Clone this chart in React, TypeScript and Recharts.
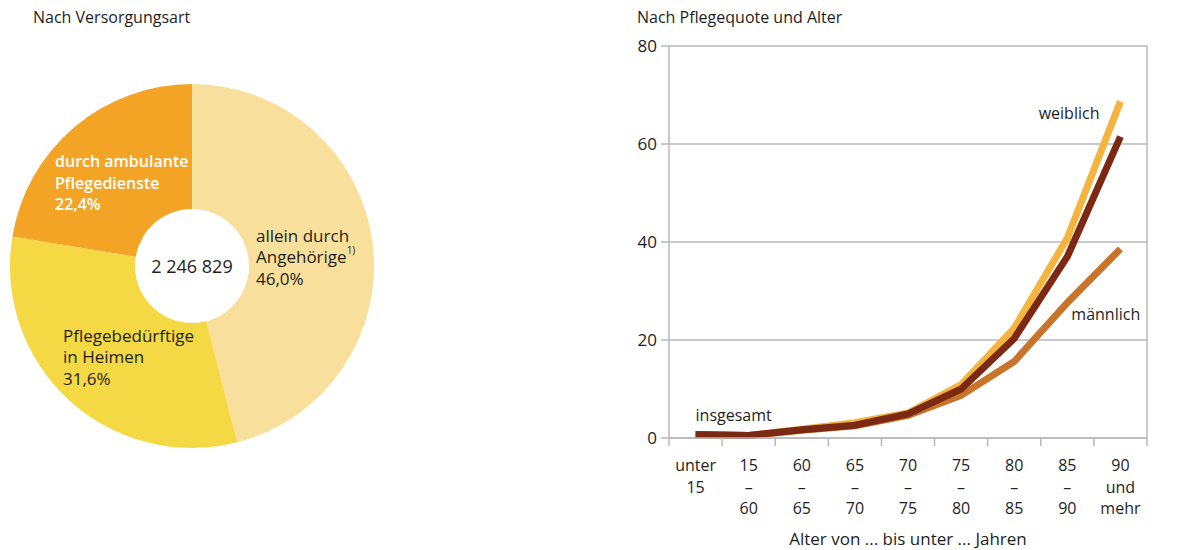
import React from 'react';
import { PieChart, Pie, Cell, LineChart, Line, XAxis, YAxis, CartesianGrid, Label } from 'recharts';

// Versorgungsart (Anteile in %)
const careTypes = ['allein durch|Angehörige|46,0%', 'Pflegebedürftige|in Heimen|31,6%', 'durch ambulante|Pflegedienste|22,4%'];
const careShares = [46.0, 31.6, 22.4];
const careColors = ['#f8e09c', '#f5d944', '#f4a424'];
const totalCount = '2 246 829';

// Pflegequote nach Alter
const ageGroups = ['unter|15', '15|–|60', '60|–|65', '65|–|70', '70|–|75', '75|–|80', '80|–|85', '85|–|90', '90|und|mehr'];
const insgesamt = [0.7, 0.5, 1.7, 2.6, 4.9, 10.0, 20.3, 37.0, 61.5];
const weiblich = [0.7, 0.5, 1.8, 3.1, 5.1, 10.9, 22.4, 40.8, 68.7];
const maennlich = [0.7, 0.5, 1.6, 2.5, 4.6, 8.7, 15.6, 27.6, 38.6];
const yTicks = [0, 20, 40, 60, 80];

const FONT = '"Open Sans", sans-serif';
const TEXT = '#1e1e1e';
const GRID = '#b8b8b8';
const BAND = 478 / 9;

const pieData = careTypes.map((name, i) => ({ name, value: careShares[i] }));
const lineData = ageGroups.map((age, i) => ({
  age,
  insgesamt: insgesamt[i],
  weiblich: weiblich[i],
  maennlich: maennlich[i],
}));

// offsets of the slice texts from the donut centre
const labelOffsets = [
  { dx: 64, dy: -31 },
  { dx: -129, dy: 69 },
  { dx: -137, dy: -105 },
];

const SliceLabel = (props: any) => {
  const { cx, cy, index } = props;
  const off = labelOffsets[index];
  const lines = careTypes[index].split('|');
  const white = index === 2;
  return (
    <g>
      {lines.map((ln, k) => (
        <text
          key={k}
          x={cx + off.dx}
          y={cy + off.dy + k * 21.5}
          dominantBaseline="central"
          textAnchor="start"
          fontFamily={FONT}
          fontSize={white ? 16 : 17}
          fontWeight={white ? 600 : 400}
          fill={white ? '#ffffff' : TEXT}
        >
          {ln}
          {index === 0 && k === 1 ? (
            <tspan fontSize={10} dy={-7}>1)</tspan>
          ) : null}
        </text>
      ))}
    </g>
  );
};

const AgeTick = (props: any) => {
  const { x, y, payload, index } = props;
  const lines = String(payload.value).split('|');
  return (
    <g>
      <line x1={x - BAND / 2} x2={x - BAND / 2} y1={y} y2={y + 8} stroke={GRID} strokeWidth={1.5} />
      {index === ageGroups.length - 1 && (
        <line x1={x + BAND / 2} x2={x + BAND / 2} y1={y} y2={y + 8} stroke={GRID} strokeWidth={1.5} />
      )}
      {lines.map((ln, k) => (
        <text key={k} x={x} y={y + 27 + k * 21.5} textAnchor="middle" dominantBaseline="central" fontFamily={FONT} fontSize={16} fill={TEXT}>
          {ln}
        </text>
      ))}
    </g>
  );
};

const seriesLabel = (key: string, idx: number, dx: number, dy: number, text: string, anchor: string) => (p: any) => {
  if (p.index !== idx) return null;
  return (
    <text key={key} x={p.x + dx} y={p.y + dy} textAnchor={anchor} dominantBaseline="central" fontFamily={FONT} fontSize={16} fill={TEXT}>
      {text}
    </text>
  );
};

export default function App() {
  return (
    <div style={{ position: 'absolute', left: 0, top: 0, width: 1189, height: 550, background: '#fff', fontFamily: FONT }}>
      <div style={{ position: 'absolute', left: 33, top: 6, fontSize: 16, color: TEXT }}>Nach Versorgungsart</div>
      <div style={{ position: 'absolute', left: 637, top: 6, fontSize: 16, color: TEXT }}>Nach Pflegequote und Alter</div>

      <div style={{ position: 'absolute', left: 0, top: 0 }}>
        <PieChart width={400} height={550} margin={{ top: 0, right: 0, bottom: 0, left: 0 }}>
          <Pie
            data={pieData}
            dataKey="value"
            cx={192}
            cy={266}
            innerRadius={57}
            outerRadius={182}
            startAngle={90}
            endAngle={-270}
            stroke="none"
            isAnimationActive={false}
            labelLine={false}
            label={SliceLabel}
          >
            {pieData.map((d, i) => (
              <Cell key={d.name} fill={careColors[i]} />
            ))}
          </Pie>
          <text x={192} y={266} textAnchor="middle" dominantBaseline="central" fontFamily={FONT} fontSize={18} fill={TEXT}>
            {totalCount}
          </text>
        </PieChart>
      </div>

      <div style={{ position: 'absolute', left: 600, top: 0 }}>
        <LineChart width={589} height={550} data={lineData} margin={{ top: 46, right: 2, bottom: 0, left: 29 }}>
          <CartesianGrid vertical={false} stroke={GRID} strokeWidth={1.5} yAxisId="left" />
          <XAxis
            dataKey="age"
            interval={0}
            height={112}
            padding={{ left: BAND / 2, right: BAND / 2 }}
            tickSize={0}
            tickMargin={0}
            tickLine={false}
            axisLine={{ stroke: GRID, strokeWidth: 1.5 }}
            tick={<AgeTick />}
          >
            <Label value="Alter von ... bis unter ... Jahren" position="insideBottom" offset={5} fontFamily={FONT} fontSize={17} fill={TEXT} />
          </XAxis>
          <YAxis
            yAxisId="left"
            width={40}
            domain={[0, 80]}
            ticks={yTicks}
            tickSize={8}
            tickMargin={4}
            axisLine={{ stroke: GRID, strokeWidth: 1.5 }}
            tickLine={{ stroke: GRID, strokeWidth: 1.5 }}
            tick={{ fontFamily: FONT, fontSize: 17, fill: TEXT }}
          />
          <YAxis
            yAxisId="right"
            orientation="right"
            width={40}
            domain={[0, 80]}
            ticks={yTicks}
            tickSize={8}
            tickMargin={6}
            axisLine={{ stroke: GRID, strokeWidth: 1.5 }}
            tickLine={{ stroke: GRID, strokeWidth: 1.5 }}
            tick={{ fontFamily: FONT, fontSize: 17, fill: TEXT, textAnchor: 'start' }}
          />
          <Line
            yAxisId="left"
            dataKey="maennlich"
            stroke="#c8742a"
            strokeWidth={7}
            dot={false}
            isAnimationActive={false}
            label={seriesLabel('m', 7, 4, 11, 'männlich', 'start')}
          />
          <Line
            yAxisId="left"
            dataKey="weiblich"
            stroke="#f4b43d"
            strokeWidth={7}
            dot={false}
            isAnimationActive={false}
            label={seriesLabel('w', 8, -21, 12, 'weiblich', 'end')}
          />
          <Line
            yAxisId="left"
            dataKey="insgesamt"
            stroke="#7b2913"
            strokeWidth={7}
            dot={false}
            isAnimationActive={false}
            label={seriesLabel('i', 0, 0, -20, 'insgesamt', 'start')}
          />
        </LineChart>
      </div>
    </div>
  );
}
